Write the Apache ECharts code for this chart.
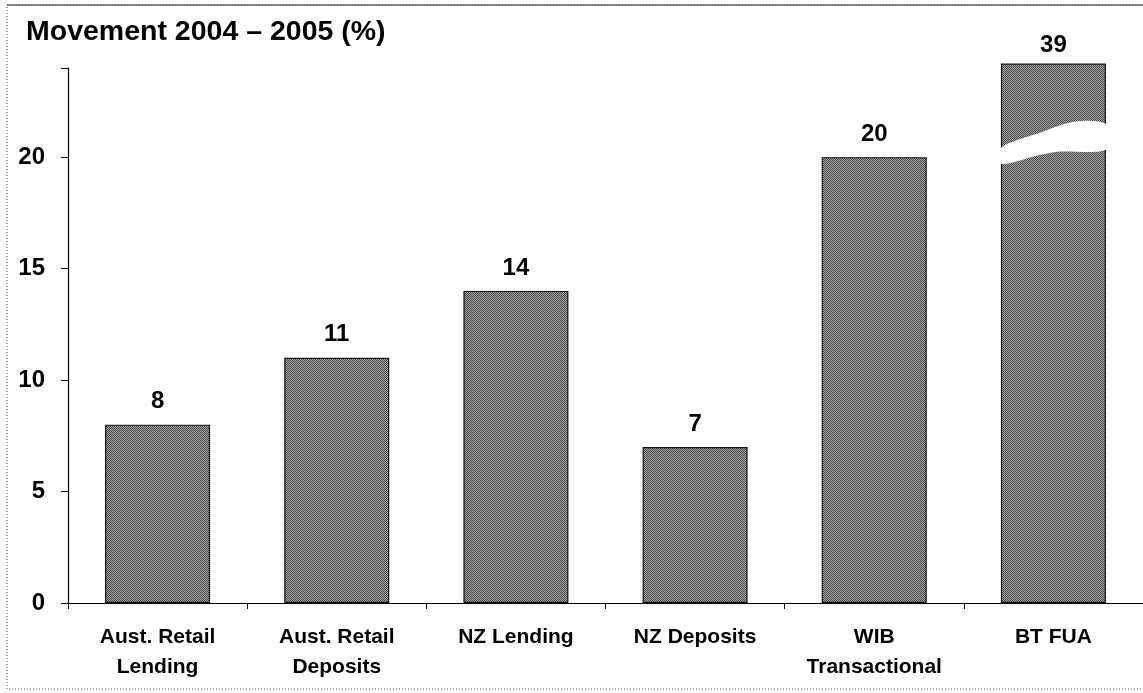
<!DOCTYPE html>
<html>
<head>
<meta charset="utf-8">
<script src="https://cdn.jsdelivr.net/npm/echarts@6/dist/echarts.min.js"></script>
<style>
  html, body { margin: 0; padding: 0; background: #fff; }
  #main { width: 1143px; height: 693px; }
</style>
</head>
<body>
<div id="main"></div>
<script>
// data
const categories = ['Aust. Retail\nLending', 'Aust. Retail\nDeposits', 'NZ Lending', 'NZ Deposits', 'WIB\nTransactional', 'BT FUA'];
const values = [8, 11, 14, 7, 20, 39];
const yMax = 24;
const yInterval = 5;
// bars above the axis top are cut and drawn with a break mark
const barCap = 24.2;
const breakAt = 20.7;

const font = 'Liberation Sans, Arial, sans-serif';

// grey checker fill like the printed bars
const pat = document.createElement('canvas');
pat.width = 2; pat.height = 2;
const pctx = pat.getContext('2d');
pctx.fillStyle = '#a6a6a6'; pctx.fillRect(0, 0, 2, 2);
pctx.fillStyle = '#474747'; pctx.fillRect(0, 0, 1, 1); pctx.fillRect(1, 1, 1, 1);

let myChart = echarts.init(document.getElementById('main'), null, { renderer: 'canvas' });

let barData = values.map((v, i) => ({
  value: Math.min(v, barCap),
  label: { distance: v > yMax ? 6 : 11 }
}));

let option = {
  animation: false,
  backgroundColor: '#fff',
  textStyle: { fontFamily: font },
  title: {
    text: 'Movement 2004 – 2005 (%)',
    left: 21, top: 13,
    textStyle: { fontFamily: font, fontWeight: 'bold', fontSize: 28.5, color: '#000' }
  },
  graphic: [{
    type: 'rect',
    shape: { x: 7, y: 5, width: 1140, height: 684 },
    style: { fill: null, stroke: '#444', lineWidth: 1, lineDash: [1, 2] },
    silent: true
  }, {
    type: 'line',
    shape: { x1: 7, y1: 5, x2: 1143, y2: 5 },
    style: { stroke: '#666', lineWidth: 1.5 },
    silent: true
  }],
  grid: { left: 68, right: 0, top: 68, bottom: 90 },
  xAxis: {
    type: 'category',
    data: categories,
    axisLine: { lineStyle: { color: '#000', width: 1.2 } },
    axisTick: { show: true, length: 6, alignWithLabel: false, lineStyle: { color: '#000' } },
    axisLabel: {
      interval: 0, margin: 19, color: '#000',
      fontFamily: font, fontWeight: 'bold', fontSize: 21, lineHeight: 30
    }
  },
  yAxis: {
    type: 'value',
    min: 0, max: yMax, interval: yInterval,
    axisLine: { show: true, lineStyle: { color: '#000', width: 1.2 } },
    axisTick: { show: true, length: 7, lineStyle: { color: '#000' } },
    splitLine: { show: false },
    axisLabel: {
      margin: 23, color: '#000',
      fontFamily: font, fontWeight: 'bold', fontSize: 24,
      formatter: v => (v > 20 ? '' : v)
    }
  },
  series: [{
    type: 'bar',
    data: barData,
    barWidth: 105,
    clip: false,
    itemStyle: {
      color: { image: pat, repeat: 'repeat' },
      borderColor: '#111',
      borderWidth: 1.2
    },
    label: {
      show: true, position: 'top', color: '#000',
      fontFamily: font, fontWeight: 'bold', fontSize: 24,
      formatter: p => values[p.dataIndex]
    }
  }, {
    // white break band across the bars that run off the scale
    type: 'custom',
    clip: false,
    silent: true,
    z: 5,
    data: values.map((v, i) => [i, v]).filter(d => d[1] > yMax),
    renderItem: function (params, api) {
      let c = api.coord([api.value(0), breakAt]);
      let half = 105 / 2 + 1;
      let u = api.size([0, 1])[1];
      let x0 = c[0] - half, x1 = c[0] + half, y = c[1];
      let pts = [
        [x0, y + 0.3 * u], [x0 + 40, y - 0.4 * u], [x0 + 76, y - 0.9 * u], [x1, y - 0.75 * u],
        [x1, y + 0.35 * u], [x0 + 60, y + 0.45 * u], [x0 + 40, y + 0.6 * u], [x0, y + 1.0 * u]
      ];
      return {
        type: 'polygon',
        shape: { points: pts, smooth: 0.3 },
        style: { fill: '#fff', stroke: null }
      };
    }
  }]
};

myChart.setOption(option);
</script>
</body>
</html>
